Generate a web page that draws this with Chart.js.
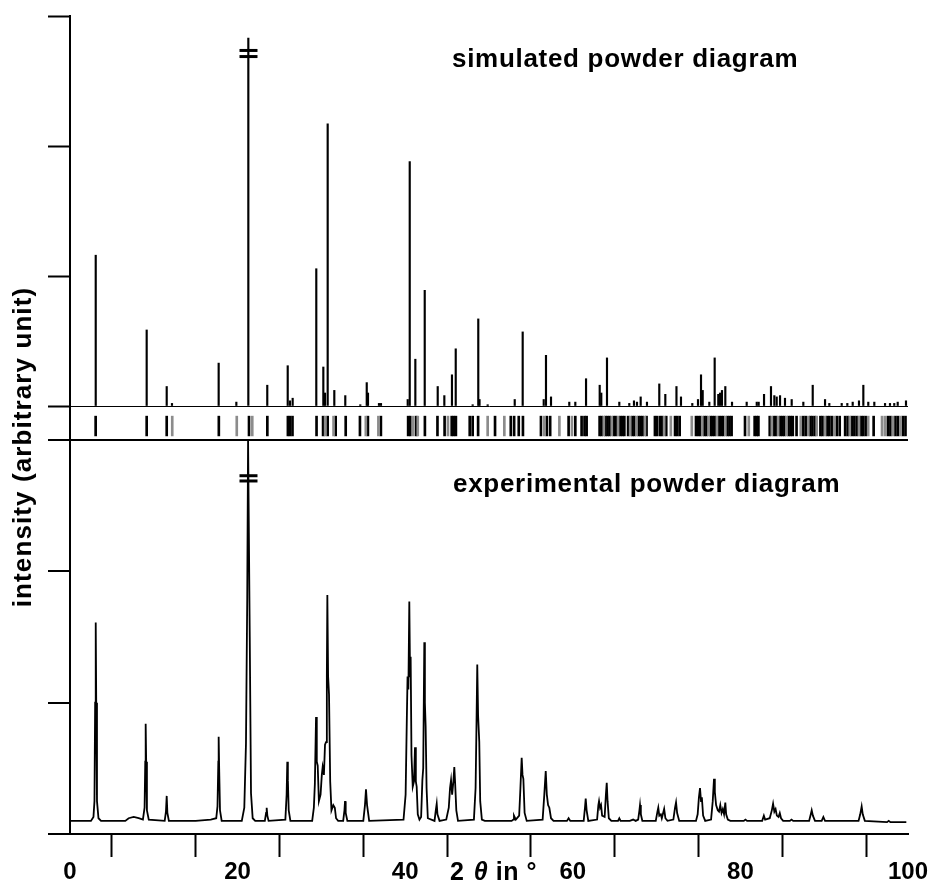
<!DOCTYPE html>
<html>
<head>
<meta charset="utf-8">
<title>powder diagram</title>
<script src="https://cdn.jsdelivr.net/npm/chart.js@4.4.1/dist/chart.umd.min.js"></script>
<style>
  body { margin: 0; background: #fff; }
  #wrap { position: relative; width: 933px; height: 886px; }
</style>
</head>
<body>
<div id="wrap"><canvas id="myChart"></canvas></div>
<script>
// simulated pattern: peak positions (2 theta, deg) and heights
const simPos = [3.07, 9.15, 11.54, 12.17, 17.74, 19.85, 21.28, 23.54, 25.98, 26.25, 26.57, 29.39, 30.23, 30.43, 30.75,
  31.54, 32.85, 34.64, 35.41, 35.56, 36.87, 37.11, 40.3, 40.54, 41.21, 42.33, 43.88, 44.67, 45.58, 46.03, 48.05,
  48.72, 48.87, 49.84, 53.07, 54.02, 56.53, 56.8, 57.4, 59.58, 60.3, 61.58, 63.21, 63.4, 64.08, 65.55, 66.74,
  67.3, 67.66, 68.1, 68.85, 70.32, 71.04, 72.37, 72.91, 74.26, 74.94, 75.3, 75.5, 76.29, 76.93, 77.36, 77.57,
  77.8, 78.2, 79.0, 80.75, 81.95, 82.18, 82.82, 83.65, 84.05, 84.33, 84.73, 85.32, 86.12, 87.51, 88.63, 90.1,
  90.61, 92.09, 92.76, 93.4, 94.15, 94.67, 95.26, 95.98, 97.26, 97.85, 98.36, 98.77, 99.76];
const simInt = [1.16, 0.585, 0.15, 0.02, 0.33, 0.03, 2.83, 0.16, 0.31, 0.04, 0.06, 1.056, 0.3, 0.1, 2.17,
  0.12, 0.08, 0.01, 0.18, 0.1, 0.02, 0.02, 0.05, 1.88, 0.36, 0.89, 0.15, 0.08, 0.24, 0.44, 0.01,
  0.67, 0.05, 0.01, 0.05, 0.57, 0.05, 0.39, 0.07, 0.03, 0.03, 0.21, 0.16, 0.1, 0.37, 0.03, 0.02,
  0.04, 0.03, 0.07, 0.03, 0.17, 0.09, 0.15, 0.07, 0.02, 0.05, 0.24, 0.12, 0.03, 0.37, 0.09, 0.1,
  0.12, 0.15, 0.03, 0.03, 0.03, 0.03, 0.09, 0.15, 0.08, 0.07, 0.08, 0.06, 0.05, 0.03, 0.16, 0.05,
  0.02, 0.02, 0.02, 0.03, 0.04, 0.16, 0.03, 0.03, 0.02, 0.02, 0.02, 0.03, 0.04];

// reflection markers below the simulated pattern
const reflBlack = [3.06, 9.15, 11.54, 17.76, 21.36, 23.55, 26.0, 26.25, 26.55, 29.42, 30.2, 30.75, 31.7, 32.9,
  34.6, 35.55, 37.1, 40.35, 40.6, 41.3, 42.35, 43.85, 44.7, 45.55, 45.8, 46.05, 47.7, 48.05, 48.7, 50.72,
  52.6, 53.0, 53.55, 54.05, 56.2, 56.9, 57.3, 59.5, 60.3, 61.05, 61.4, 61.65,
  63.2, 63.45, 63.9, 64.15, 64.4, 64.9, 65.15, 65.65, 65.9, 66.15, 66.6, 67.1, 67.35, 67.85, 68.1, 68.35, 68.8,
  69.8, 70.05, 70.4, 70.65, 71.15, 72.2, 72.45, 72.75,
  74.7, 74.95, 75.2, 75.7, 75.95, 76.45, 76.7, 76.95, 77.45, 77.7, 77.95, 78.45, 78.7, 78.95,
  80.55, 81.7, 81.95, 82.15, 83.5, 84.0, 84.25, 84.75, 85.0, 85.25, 85.75, 86.0, 86.25,
  86.7, 87.5, 87.8, 88.35, 88.6, 88.9, 89.55, 89.8, 90.35, 90.6, 90.9, 91.5, 91.85,
  92.5, 92.8, 93.3, 93.6, 93.9, 94.4, 94.65, 94.95, 95.9, 97.6, 97.9, 98.5, 98.8, 99.4, 99.7];
const reflGray = [12.2, 19.9, 21.75, 30.45, 31.45, 35.3, 36.8, 40.95, 41.5, 45.1, 49.84, 51.83, 56.6, 58.4,
  59.9, 63.7, 64.65, 65.4, 66.85, 67.6, 68.6, 70.9, 71.7, 74.2, 75.45, 76.2, 77.2, 78.2, 81.0, 83.75,
  84.5, 85.5, 87.2, 88.1, 89.1, 90.1, 91.2, 93.05, 94.15, 95.25, 96.9, 97.25, 98.2, 99.1];
const reflSpan = [-0.078, -0.23];

// experimental profile as [2 theta, intensity]
const expData = [
  [0, 0.1], [2.5, 0.1], [2.8, 0.13], [2.92, 0.25], [3.0, 1.0], [3.07, 1.61], [3.13, 1.0], [3.22, 0.25], [3.4, 0.12], [3.7, 0.1],
  [6.6, 0.1], [7.0, 0.12], [7.6, 0.13], [8.2, 0.12], [8.7, 0.11], [8.9, 0.2], [8.98, 0.55], [9.03, 0.84], [9.09, 0.55], [9.18, 0.18], [9.4, 0.11],
  [11.3, 0.1], [11.45, 0.17], [11.54, 0.29], [11.62, 0.16], [11.8, 0.1],
  [15, 0.1], [16.8, 0.11], [17.45, 0.12], [17.6, 0.21], [17.7, 0.55], [17.74, 0.74], [17.8, 0.5], [17.9, 0.18], [18.1, 0.1],
  [20.5, 0.1], [20.8, 0.2], [21.0, 0.69], [21.15, 1.8], [21.25, 3.0], [21.35, 3.0], [21.45, 1.5], [21.6, 0.31], [21.8, 0.12], [22.1, 0.1],
  [23.25, 0.1], [23.4, 0.16], [23.47, 0.2], [23.55, 0.14], [23.7, 0.1],
  [25.7, 0.11], [25.85, 0.3], [25.93, 0.55], [26.0, 0.41], [26.1, 0.18], [26.3, 0.1],
  [28.9, 0.1], [29.1, 0.2], [29.22, 0.38], [29.36, 0.89], [29.45, 0.55], [29.56, 0.52], [29.7, 0.25], [29.9, 0.3], [30.05, 0.45],
  [30.15, 0.51], [30.3, 0.45], [30.43, 0.68], [30.55, 0.7], [30.65, 1.2], [30.71, 1.82], [30.8, 1.2], [30.91, 1.06], [31.05, 0.4],
  [31.2, 0.18], [31.42, 0.22], [31.6, 0.2], [31.75, 0.12], [32.0, 0.1],
  [32.6, 0.1], [32.75, 0.18], [32.82, 0.25], [32.9, 0.16], [33.1, 0.1],
  [35.0, 0.1], [35.2, 0.22], [35.32, 0.34], [35.45, 0.22], [35.7, 0.1],
  [39.8, 0.11], [40.05, 0.3], [40.2, 0.9], [40.28, 1.2], [40.38, 1.1], [40.49, 1.77], [40.58, 1.2], [40.65, 1.35], [40.75, 0.6],
  [40.9, 0.36], [41.05, 0.4], [41.17, 0.66], [41.27, 0.4], [41.37, 0.36], [41.5, 0.15], [41.7, 0.11],
  [41.9, 0.13], [42.05, 0.41], [42.15, 0.5], [42.28, 1.46], [42.35, 1.0], [42.44, 0.82], [42.55, 0.35], [42.7, 0.12],
  [43.5, 0.1], [43.65, 0.18], [43.76, 0.23], [43.85, 0.15], [44.1, 0.1],
  [44.9, 0.11], [45.2, 0.2], [45.35, 0.35], [45.47, 0.41], [45.6, 0.3], [45.75, 0.4], [45.86, 0.51], [45.95, 0.4], [46.1, 0.18], [46.3, 0.1],
  [48.2, 0.11], [48.4, 0.35], [48.5, 0.8], [48.6, 1.29], [48.7, 0.9], [48.84, 0.7], [48.95, 0.25], [49.15, 0.11], [49.5, 0.1],
  [52.7, 0.1], [52.9, 0.11], [52.98, 0.14], [53.2, 0.11], [53.6, 0.14], [53.75, 0.35], [53.9, 0.58], [54.0, 0.45], [54.1, 0.42], [54.25, 0.16], [54.5, 0.1],
  [56.4, 0.11], [56.6, 0.3], [56.77, 0.48], [56.9, 0.3], [57.05, 0.22], [57.2, 0.2], [57.4, 0.12], [57.7, 0.1],
  [59.3, 0.1], [59.5, 0.12], [59.7, 0.1], [61.3, 0.1], [61.45, 0.2], [61.54, 0.27], [61.65, 0.18], [61.85, 0.1],
  [62.9, 0.11], [63.05, 0.22], [63.13, 0.25], [63.25, 0.2], [63.37, 0.22], [63.5, 0.14], [63.8, 0.13], [63.95, 0.3], [64.05, 0.39], [64.15, 0.25], [64.3, 0.12], [64.6, 0.1],
  [65.4, 0.1], [65.55, 0.12], [65.7, 0.1], [66.8, 0.1], [67.2, 0.11], [67.5, 0.1],
  [67.8, 0.11], [67.95, 0.18], [68.02, 0.22], [68.12, 0.15], [68.3, 0.1],
  [69.9, 0.1], [70.1, 0.17], [70.2, 0.2], [70.32, 0.14], [70.5, 0.15], [70.62, 0.12], [70.78, 0.16], [70.9, 0.19], [71.05, 0.12], [71.3, 0.1],
  [72.0, 0.11], [72.2, 0.2], [72.32, 0.24], [72.45, 0.16], [72.7, 0.1],
  [74.7, 0.1], [74.9, 0.15], [75.05, 0.28], [75.18, 0.35], [75.3, 0.25], [75.4, 0.28], [75.55, 0.14], [75.8, 0.1],
  [76.5, 0.11], [76.7, 0.25], [76.85, 0.42], [76.95, 0.32], [77.1, 0.22], [77.3, 0.18], [77.45, 0.17], [77.6, 0.22], [77.75, 0.16],
  [77.9, 0.19], [78.05, 0.15], [78.2, 0.24], [78.3, 0.15], [78.5, 0.11], [78.8, 0.1],
  [80.4, 0.1], [80.6, 0.11], [80.8, 0.1], [82.6, 0.1], [82.8, 0.14], [82.95, 0.11], [83.5, 0.12], [83.75, 0.18], [83.9, 0.23],
  [84.05, 0.17], [84.2, 0.19], [84.35, 0.14], [84.55, 0.13], [84.7, 0.16], [84.85, 0.12], [85.1, 0.1],
  [85.9, 0.1], [86.1, 0.11], [86.3, 0.1], [88.2, 0.1], [88.4, 0.15], [88.51, 0.18], [88.65, 0.14], [88.9, 0.1],
  [89.7, 0.1], [89.9, 0.13], [90.1, 0.1],
  [94.1, 0.1], [94.3, 0.15], [94.47, 0.21], [94.6, 0.15], [94.85, 0.1],
  [97.5, 0.09], [97.7, 0.1], [97.9, 0.09], [99.8, 0.09]
];

// axis break marks on the strongest peak
const breakAt = 21.3;
const simBreak = [2.735, 2.688];
const expBreak = [2.728, 2.688];

const xTicks = [0, 10, 20, 30, 40, 50, 60, 70, 80, 90, 100];
const yTicks = [0, 1, 2, 3];

const font = "'Liberation Sans', Arial, sans-serif";

// texts that Chart.js has no slot for
const textPlugin = {
  id: "texts",
  afterDraw: function (chart) {
    const ctx = chart.ctx;
    ctx.save();
    ctx.fillStyle = "#000";
    ctx.textBaseline = "alphabetic";
    ctx.font = "bold 26px " + font;
    ctx.letterSpacing = "0.7px";
    ctx.fillText("simulated powder diagram", 452, 67);
    ctx.fillText("experimental powder diagram", 453, 492);

    // x axis title: 2 θ in °
    ctx.letterSpacing = "0.5px";
    ctx.font = "bold 25px " + font;
    let px = 450;
    ctx.fillText("2 ", px, 880);
    px += ctx.measureText("2 ").width + 2;
    ctx.font = "italic bold 25px " + font;
    ctx.fillText("θ", px, 880);
    px += ctx.measureText("θ").width;
    ctx.font = "bold 25px " + font;
    ctx.fillText(" in °", px, 880);

    // y axis title
    ctx.letterSpacing = "1.1px";
    ctx.translate(31, 447);
    ctx.rotate(-Math.PI / 2);
    ctx.textAlign = "center";
    ctx.font = "bold 26px " + font;
    ctx.fillText("intensity (arbitrary unit)", 0, 0);
    ctx.restore();
  },
};

function pairs(list) {
  return list.map(function (p) {
    return { x: p[0], y: p[1] };
  });
}

const ctx = document.querySelector("#myChart");
new Chart(ctx, {
  type: "line",
  data: {
    datasets: [
      {
        type: "line",
        data: pairs(expData),
        yAxisID: "y",
        borderColor: "#000",
        borderWidth: 1.8,
        pointRadius: 0,
        tension: 0,
      },
      {
        type: "bar",
        data: simPos.map(function (p, i) {
          return { x: p, y: simInt[i] };
        }),
        yAxisID: "y2",
        stack: "sim",
        backgroundColor: "#000",
        barThickness: 1.5,
      },
      {
        type: "bar",
        data: reflGray.map(function (p) {
          return { x: p, y: reflSpan };
        }),
        yAxisID: "y2",
        stack: "sim",
        backgroundColor: "#8c8c8c",
        barThickness: 2,
      },
      {
        type: "bar",
        data: reflBlack.map(function (p) {
          return { x: p, y: reflSpan };
        }),
        yAxisID: "y2",
        stack: "sim",
        backgroundColor: "#000",
        barThickness: 2,
      },
      {
        type: "line",
        data: simBreak.map(function (v) {
          return { x: breakAt, y: v };
        }),
        yAxisID: "y2",
        showLine: false,
        pointStyle: "line",
        pointRadius: 9,
        pointBorderWidth: 3,
        pointBorderColor: "#000",
      },
      {
        type: "line",
        data: expBreak.map(function (v) {
          return { x: breakAt, y: v };
        }),
        yAxisID: "y",
        showLine: false,
        pointStyle: "line",
        pointRadius: 9,
        pointBorderWidth: 3,
        pointBorderColor: "#000",
      },
    ],
  },
  options: {
    responsive: true,
    maintainAspectRatio: false,
    animation: false,
    layout: { padding: { top: 16, right: 25, left: 0, bottom: 0 } },
    plugins: { legend: { display: false }, tooltip: { enabled: false } },
    scales: {
      x: {
        type: "linear",
        min: 0,
        max: 100,
        offset: false,
        afterBuildTicks: function (s) {
          s.ticks = xTicks.map(function (v) {
            return { value: v };
          });
        },
        afterFit: function (s) {
          s.height = 52;
        },
        ticks: {
          autoSkip: false,
          maxRotation: 0,
          padding: 1,
          color: "#000",
          font: { family: font, size: 24, weight: "bold" },
          callback: function (v) {
            return v % 20 === 0 ? String(v) : "";
          },
        },
        grid: { drawOnChartArea: false, tickLength: 23, tickWidth: 2, tickColor: "#000" },
        border: { color: "#000", width: 2 },
      },
      y: {
        type: "linear",
        position: "left",
        stack: "panels",
        stackWeight: 394,
        weight: 0,
        min: 0,
        max: 3,
        afterBuildTicks: function (s) {
          s.ticks = yTicks.map(function (v) {
            return { value: v };
          });
        },
        afterFit: function (s) {
          s.width = 70;
        },
        ticks: { display: false },
        grid: {
          tickLength: 22,
          tickWidth: 2,
          tickColor: "#000",
          lineWidth: 2,
          color: function (c) {
            return c.tick && c.tick.value === 3 ? "#000" : "rgba(0,0,0,0)";
          },
        },
        border: { color: "#000", width: 2 },
      },
      y2: {
        type: "linear",
        position: "left",
        stack: "panels",
        stackWeight: 424,
        weight: 1,
        stacked: false,
        min: -0.2615,
        max: 3,
        afterBuildTicks: function (s) {
          s.ticks = yTicks.map(function (v) {
            return { value: v };
          });
        },
        afterFit: function (s) {
          s.width = 70;
        },
        ticks: { display: false },
        grid: {
          tickLength: 22,
          tickWidth: 2,
          tickColor: "#000",
          lineWidth: 1,
          color: function (c) {
            return c.tick && c.tick.value === 0 ? "#000" : "rgba(0,0,0,0)";
          },
        },
        border: { color: "#000", width: 2 },
      },
    },
  },
  plugins: [textPlugin],
});
</script>
</body>
</html>
